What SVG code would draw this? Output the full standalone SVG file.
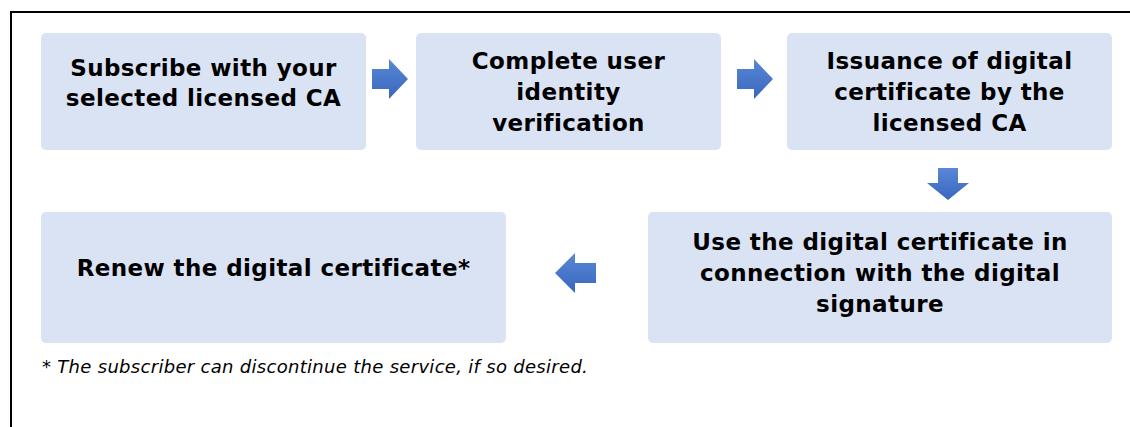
<svg xmlns="http://www.w3.org/2000/svg" width="1130" height="427" viewBox="0 0 1130 427">
<style>
.box{fill:#DAE3F3;}
.t{font-family:"DejaVu Sans",Verdana,sans-serif;font-weight:bold;font-size:23px;letter-spacing:0.4px;fill:#000;text-anchor:middle;}
.fn{font-family:"DejaVu Sans",Verdana,sans-serif;font-style:italic;font-size:18px;letter-spacing:0.3px;fill:#000;}
.arr{fill:url(#g);}
</style>
<defs>
<linearGradient id="g" x1="0" y1="0" x2="0" y2="1">
<stop offset="0" stop-color="#5A88D6"/>
<stop offset="1" stop-color="#3766BE"/>
</linearGradient>
</defs>
<rect x="11" y="12" width="1130" height="430" fill="#fff" stroke="#000" stroke-width="2"/>
<g id="n1"><rect class="box" x="41" y="33" width="325" height="117" rx="5"/>
<text class="t" x="203.5" y="76">Subscribe with your</text>
<text class="t" x="203.5" y="106">selected licensed CA</text></g>
<g id="n2"><rect class="box" x="416" y="33" width="305" height="117" rx="5"/>
<text class="t" x="568.5" y="69">Complete user</text>
<text class="t" x="568.5" y="100">identity</text>
<text class="t" x="568.5" y="131">verification</text></g>
<g id="n3"><rect class="box" x="787" y="33" width="325" height="117" rx="5"/>
<text class="t" x="949.5" y="69">Issuance of digital</text>
<text class="t" x="949.5" y="100">certificate by the</text>
<text class="t" x="949.5" y="131">licensed CA</text></g>
<g id="n4"><rect class="box" x="648" y="212" width="464" height="131" rx="5"/>
<text class="t" x="880" y="250">Use the digital certificate in</text>
<text class="t" x="880" y="281">connection with the digital</text>
<text class="t" x="880" y="312">signature</text></g>
<g id="n5"><rect class="box" x="41" y="212" width="465" height="131" rx="5"/>
<text class="t" x="273.5" y="276">Renew the digital certificate*</text></g>
<g id="connectors">
<polygon class="arr" points="372,69 389,69 389,59 408,79 389,99 389,89 372,89"/>
<polygon class="arr" points="737,69 754,69 754,59 773,79 754,99 754,89 737,89"/>
<polygon class="arr" points="938,168 958,168 958,183 969,183 948,200 927,183 938,183"/>
<polygon class="arr" points="596,263 575,263 575,253 555,273 575,293 575,283 596,283"/>
</g>
<text class="fn" x="42" y="373">* The subscriber can discontinue the service, if so desired.</text>
</svg>
